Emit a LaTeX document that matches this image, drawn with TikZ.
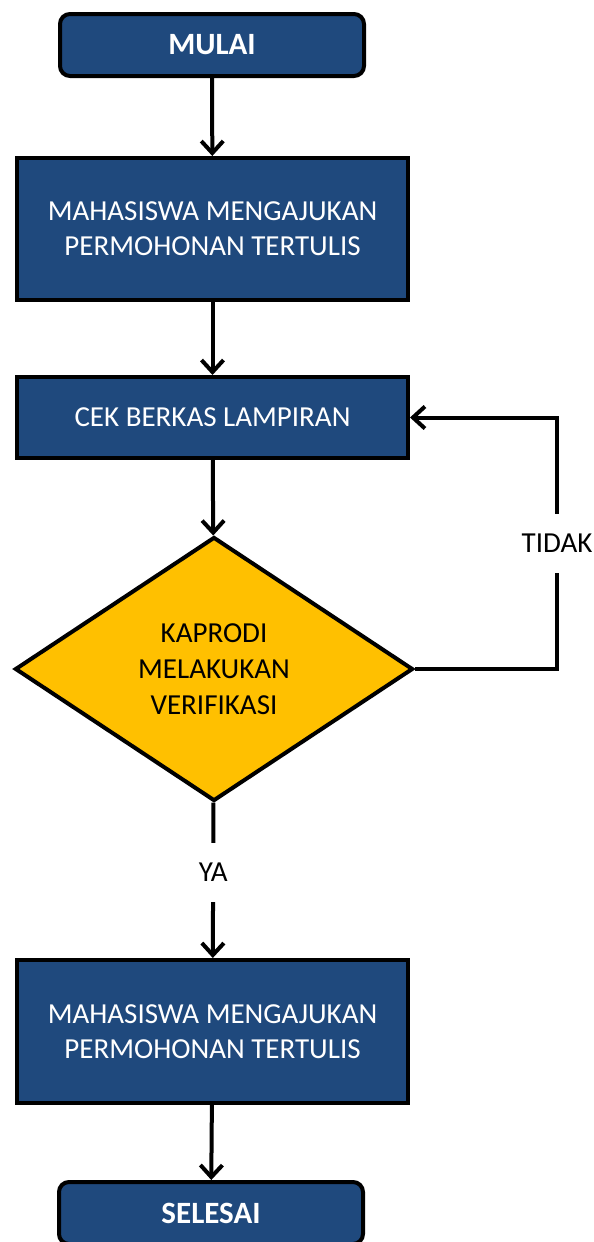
\documentclass[tikz,border=0pt]{standalone}
\usepackage{fontspec}
\setmainfont{Carlito}
\usetikzlibrary{shapes.geometric,arrows.meta}
\definecolor{biru}{HTML}{1F497D}
\definecolor{kuning}{HTML}{FFC000}
\begin{document}
\begin{tikzpicture}[x=1pt,y=-1pt,line width=4pt,
  terminal/.style={draw,fill=biru,text=white,rounded corners=10pt,minimum width=304pt,minimum height=62pt,inner sep=0pt,font=\fontsize{31}{37}\selectfont\bfseries},
  proses/.style={draw,fill=biru,text=white,minimum width=391pt,inner sep=0pt,align=center,font=\fontsize{29}{35}\selectfont},
  keputusan/.style={draw,fill=kuning,diamond,aspect=1.5,minimum width=398pt,minimum height=264pt,inner sep=0pt,align=center,font=\fontsize{29}{36}\selectfont},
  label/.style={fill=white,inner xsep=2pt,inner ysep=20pt,font=\fontsize{29}{35}\selectfont},
  panah/.style={-{Straight Barb[length=12pt,width=22pt]}}]
\useasboundingbox (0,0) rectangle (594,1242);
\node[terminal] (1) at (212,45) {MULAI};
\node[proses,minimum height=142pt] (2) at (212.5,229) {MAHASISWA MENGAJUKAN\\PERMOHONAN TERTULIS};
\node[proses,minimum height=81pt] (3) at (212.5,417.5) {CEK BERKAS LAMPIRAN};
\node[keputusan] (4) at (214,669) {KAPRODI\\MELAKUKAN\\VERIFIKASI};
\node[proses,minimum height=143pt] (5) at (212.5,1031.5) {MAHASISWA MENGAJUKAN\\PERMOHONAN TERTULIS};
\node[terminal] (6) at (211,1213) {SELESAI};
\draw[panah] (1) -- (2);
\draw[panah] (2) -- (3);
\draw[panah] (3) -- (4);
\draw[panah] (4) -- node[label,pos=0.45] {YA} (5);
\draw[panah] (5) -- (6);
\draw[panah] (4.east) -- ++(142,0) |- node[label,pos=0.25] {TIDAK} (3.east);
\end{tikzpicture}
\end{document}
